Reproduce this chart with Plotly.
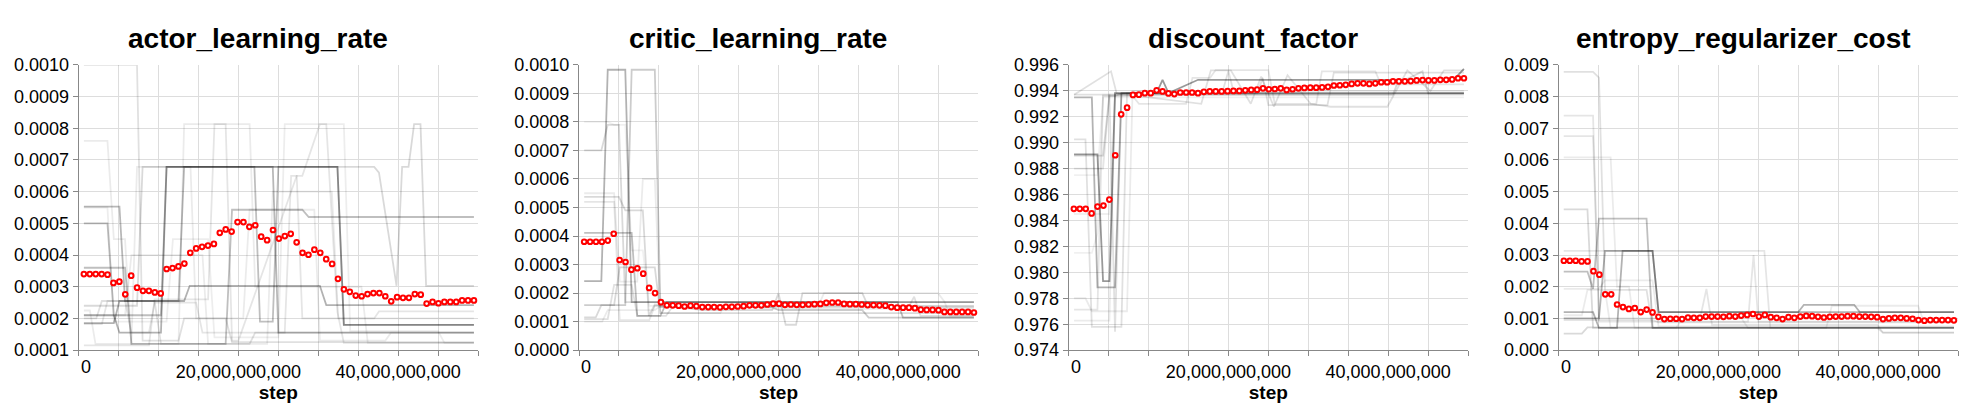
import plotly.graph_objects as go

# evaluation steps (billions of env steps) shared by every panel
steps_b = [0.65, 1.39, 2.13, 2.87, 3.61, 4.35, 5.09, 5.83, 6.57, 7.31,
           8.05, 8.79, 9.53, 10.27, 11.01, 11.75, 12.49, 13.23, 13.97, 14.71,
           15.45, 16.19, 16.93, 17.67, 18.41, 19.15, 19.89, 20.63, 21.37, 22.11,
           22.85, 23.59, 24.33, 25.07, 25.81, 26.55, 27.29, 28.03, 28.77, 29.51,
           30.25, 30.99, 31.73, 32.47, 33.21, 33.95, 34.69, 35.43, 36.17, 36.91,
           37.65, 38.39, 39.13, 39.87, 40.61, 41.35, 42.09, 42.83, 43.57, 44.31,
           45.05, 45.79, 46.53, 47.27, 48.01, 48.75, 49.49]

# population means (red circles)
actor_mean_e4 = [3.40, 3.40, 3.40, 3.40, 3.38, 3.12, 3.16, 2.76, 3.35, 2.97,
                 2.87, 2.87, 2.82, 2.79, 3.56, 3.59, 3.64, 3.73, 4.07, 4.21,
                 4.26, 4.30, 4.35, 4.70, 4.81, 4.74, 5.04, 5.04, 4.89, 4.94,
                 4.58, 4.47, 4.79, 4.52, 4.60, 4.67, 4.40, 4.07, 4.01, 4.17,
                 4.07, 3.87, 3.72, 3.25, 2.92, 2.84, 2.72, 2.70, 2.77, 2.80,
                 2.80, 2.70, 2.54, 2.67, 2.65, 2.65, 2.77, 2.75, 2.47, 2.52,
                 2.48, 2.52, 2.52, 2.52, 2.57, 2.57, 2.57]

critic_mean_e4 = [3.80, 3.80, 3.80, 3.80, 3.84, 4.08, 3.16, 3.09, 2.82, 2.87,
                  2.68, 2.18, 2.00, 1.68, 1.57, 1.57, 1.56, 1.53, 1.56, 1.54,
                  1.51, 1.51, 1.51, 1.50, 1.52, 1.52, 1.53, 1.54, 1.57, 1.57,
                  1.57, 1.60, 1.63, 1.63, 1.59, 1.60, 1.59, 1.59, 1.60, 1.61,
                  1.62, 1.66, 1.67, 1.67, 1.62, 1.61, 1.61, 1.60, 1.58, 1.58,
                  1.57, 1.56, 1.51, 1.49, 1.49, 1.49, 1.47, 1.42, 1.41, 1.41,
                  1.40, 1.34, 1.34, 1.34, 1.34, 1.34, 1.32]

discount_mean = [0.98490, 0.98490, 0.98490, 0.98454, 0.98507, 0.98515, 0.98561, 0.98903, 0.99219, 0.99270,
                 0.99368, 0.99370, 0.99382, 0.99382, 0.99404, 0.99395, 0.99380, 0.99375, 0.99387, 0.99387,
                 0.99387, 0.99382, 0.99392, 0.99395, 0.99395, 0.99395, 0.99397, 0.99399, 0.99399, 0.99404,
                 0.99407, 0.99409, 0.99419, 0.99412, 0.99414, 0.99419, 0.99407, 0.99412, 0.99419, 0.99422,
                 0.99424, 0.99424, 0.99426, 0.99431, 0.99441, 0.99443, 0.99446, 0.99453, 0.99458, 0.99458,
                 0.99453, 0.99458, 0.99466, 0.99466, 0.99473, 0.99473, 0.99473, 0.99475, 0.99480, 0.99483,
                 0.99480, 0.99480, 0.99485, 0.99485, 0.99488, 0.99497, 0.99497]

entropy_mean_e3 = [2.82, 2.82, 2.82, 2.80, 2.80, 2.49, 2.38, 1.76, 1.76, 1.44,
                   1.36, 1.30, 1.33, 1.20, 1.28, 1.19, 1.05, 0.98, 0.99, 0.99,
                   0.98, 1.03, 1.02, 1.02, 1.06, 1.06, 1.06, 1.05, 1.07, 1.06,
                   1.09, 1.11, 1.14, 1.06, 1.11, 1.04, 1.02, 0.98, 1.04, 1.02,
                   1.06, 1.08, 1.07, 1.05, 1.03, 1.05, 1.06, 1.06, 1.07, 1.07,
                   1.06, 1.06, 1.05, 1.04, 0.98, 1.00, 1.02, 1.02, 1.00, 0.99,
                   0.95, 0.93, 0.95, 0.95, 0.95, 0.95, 0.94]

# individual population members (grey lines): (steps_b, value) vertices
actor_runs_e4 = [
    ([0.65, 7.3, 8.0, 12.5, 13.2, 18.4, 19.2, 49.49], [10.0, 10.0, 1.3, 1.3, 2.0, 2.0, 1.25, 1.25]),
    ([0.65, 4.4, 5.1, 10.3, 11.0, 32.4, 33.2, 49.49], [2.1, 2.1, 1.55, 1.55, 6.78, 6.78, 1.8, 1.8]),
    ([0.65, 5.1, 5.8, 12.5, 13.2, 24.3, 25.0, 49.49], [5.53, 5.53, 2.55, 2.55, 6.78, 6.78, 1.55, 1.55]),
    ([0.65, 4.4, 5.1, 13.2, 13.9, 30.2, 31.0, 49.49], [1.85, 1.85, 2.55, 2.55, 3.03, 3.03, 2.42, 2.42]),
    ([0.65, 3.6, 4.4, 10.3, 11.0, 22.0, 22.7, 24.3, 25.0, 32.4, 33.2, 49.49],
     [5.0, 5.0, 2.1, 2.1, 6.78, 6.78, 1.9, 1.9, 6.78, 6.78, 1.8, 1.8]),
    ([0.65, 5.8, 6.6, 18.4, 19.2, 28.0, 28.8, 49.49], [3.6, 3.6, 1.2, 1.2, 5.43, 5.43, 5.2, 5.2]),
    ([0.65, 7.3, 8.0, 37.0, 37.6, 39.8, 40.5, 41.3, 42.0, 42.8, 43.5, 49.49],
     [2.4, 2.4, 6.78, 6.78, 6.6, 3.03, 6.78, 6.78, 8.13, 8.13, 3.03, 3.03]),
    ([0.65, 8.8, 9.5, 16.2, 17.0, 18.4, 19.2, 20.0, 27.3, 28.0, 30.2, 31.0, 32.4, 33.2, 49.49],
     [1.15, 1.15, 2.6, 2.6, 8.13, 8.13, 1.3, 1.3, 6.5, 6.5, 8.13, 8.13, 2.2, 1.23, 1.23]),
    ([0.65, 2.9, 3.6, 5.8, 6.6, 8.8, 9.5, 14.7, 15.5, 25.8, 26.6, 27.3, 28.0, 37.0, 37.6, 49.49],
     [1.82, 1.82, 2.55, 2.55, 1.55, 1.55, 2.5, 2.5, 1.55, 1.55, 6.5, 6.5, 2.0, 2.0, 2.22, 2.22]),
    ([0.65, 3.6, 4.4, 5.8, 6.6, 12.5, 13.2, 21.4, 22.1, 35.4, 36.2, 49.49],
     [7.6, 7.6, 4.5, 4.5, 1.2, 1.2, 8.13, 8.13, 3.0, 3.0, 1.23, 1.23]),
    ([0.65, 2.2, 2.9, 9.5, 10.3, 21.4, 22.1, 49.49], [2.0, 2.0, 2.55, 2.55, 1.2, 1.2, 1.55, 1.55]),
    ([0.65, 1.4, 2.1, 6.6, 7.3, 14.0, 14.7, 20.6, 21.4, 29.5, 30.2, 38.4, 39.1, 49.49],
     [2.25, 2.25, 1.2, 1.2, 6.78, 6.78, 2.0, 2.0, 5.43, 5.43, 1.3, 1.3, 1.55, 1.55]),
    ([0.65, 3.6, 4.4, 11.0, 11.8, 16.2, 17.0, 25.0, 25.8, 33.2, 34.0, 45.0, 45.8, 49.49],
     [5.5, 5.5, 1.9, 1.9, 4.5, 4.5, 1.4, 1.4, 8.13, 8.13, 1.6, 1.6, 1.23, 1.23]),
    ([0.65, 5.8, 6.6, 15.5, 16.2, 23.6, 24.3, 31.7, 32.5, 49.49],
     [2.1, 2.1, 4.0, 4.0, 1.2, 1.2, 6.0, 6.0, 2.0, 2.0]),
]
actor_alpha = [0.12, 0.3, 0.28, 0.3, 0.25, 0.25, 0.15, 0.1, 0.1, 0.08, 0.12, 0.08, 0.07, 0.08]

critic_runs_e4 = [
    ([0.65, 2.8, 3.6, 5.8, 6.6, 49.49], [2.42, 2.42, 9.83, 9.83, 1.68, 1.68]),
    ([0.65, 5.8, 6.6, 9.5, 10.2, 24.2, 25.0, 35.5, 36.3, 49.49],
     [1.58, 1.58, 9.83, 9.83, 1.51, 1.51, 1.4, 1.4, 1.14, 1.14]),
    ([0.65, 2.8, 3.6, 5.0, 5.8, 49.49], [7.0, 7.0, 7.9, 7.9, 1.68, 1.68]),
    ([0.65, 5.0, 5.8, 8.0, 8.75, 9.5, 15.5, 16.2, 24.2, 25.0, 25.9, 27.2, 28.0, 35.5, 36.3, 49.49],
     [5.37, 5.37, 4.9, 4.9, 1.2, 1.6, 1.4, 1.4, 1.4, 2.0, 0.89, 0.89, 2.0, 2.0, 1.51, 1.51]),
    ([0.65, 6.6, 7.3, 10.2, 11.0, 39.9, 40.6, 49.49], [4.11, 4.11, 1.2, 1.2, 1.68, 1.68, 1.14, 1.14]),
    ([0.65, 3.6, 4.4, 6.6, 7.3, 10.9, 11.7, 41.3, 42.0, 42.8, 49.49],
     [1.09, 1.09, 2.29, 2.29, 1.2, 1.2, 1.51, 1.51, 1.87, 1.2, 1.2]),
    ([0.65, 4.4, 5.1, 8.8, 9.5, 49.49], [5.2, 5.2, 1.05, 1.05, 1.55, 1.55]),
    ([0.65, 2.1, 2.8, 4.4, 5.1, 9.5, 10.2, 49.49], [1.15, 1.15, 1.58, 1.58, 2.9, 2.9, 1.3, 1.3]),
    ([0.65, 3.6, 4.4, 5.8, 6.6, 8.0, 8.8, 49.49], [8.0, 8.0, 7.9, 7.9, 3.5, 3.5, 1.55, 1.55]),
    ([0.65, 4.4, 5.1, 7.3, 8.0, 9.5, 10.2, 17.7, 18.4, 22.1, 22.8, 49.49],
     [5.5, 5.5, 2.4, 2.4, 6.0, 6.0, 1.3, 1.3, 1.65, 1.65, 1.45, 1.45]),
    ([0.65, 2.9, 3.6, 9.5, 10.2, 30.0, 30.7, 45.0, 45.8, 46.5, 49.49],
     [1.0, 1.0, 1.4, 1.4, 1.55, 1.55, 2.0, 2.0, 1.7, 1.2, 1.2]),
]
critic_alpha = [0.3, 0.2, 0.15, 0.15, 0.25, 0.12, 0.1, 0.15, 0.06, 0.08, 0.08]

discount_runs = [
    ([0.67, 3.6, 4.3, 5.1, 5.8, 11.0, 11.75, 12.5, 16.2, 48.2, 49.49],
     [0.98910, 0.98910, 0.97933, 0.97933, 0.99382, 0.99382, 0.99485, 0.99382, 0.99485, 0.99485, 0.99570]),
    ([0.67, 2.9, 3.6, 5.8, 6.6, 49.49], [0.99350, 0.99350, 0.97884, 0.97884, 0.99382, 0.99382]),
    ([0.67, 2.1, 2.9, 6.6, 7.3, 49.49], [0.99025, 0.99025, 0.97580, 0.97580, 0.99380, 0.99380]),
    ([0.67, 5.1, 5.8, 6.6, 19.2, 20.0, 20.7, 23.6, 24.3, 25.0, 32.4, 33.2, 49.49],
     [0.9937, 0.9937, 0.97542, 0.9938, 0.9938, 0.99552, 0.9938, 0.9938, 0.9950, 0.9929, 0.9929, 0.9954, 0.9954]),
    ([0.67, 4.3, 5.1, 8.0, 8.8, 14.7, 15.5, 17.7, 18.4, 25.0, 25.8, 31.0, 31.7, 38.4, 39.1, 49.49],
     [0.9880, 0.9880, 0.9936, 0.9936, 0.9930, 0.9930, 0.9950, 0.9950, 0.9956, 0.9956, 0.9930, 0.9930,
      0.9955, 0.9955, 0.9945, 0.9945]),
    ([0.67, 3.6, 4.3, 5.8, 6.6, 49.49], [0.97713, 0.97713, 0.99360, 0.99360, 0.99380, 0.99380]),
    ([0.67, 5.1, 5.8, 49.49], [0.97627, 0.97627, 0.9938, 0.9938]),
    ([0.67, 4.3, 5.1, 40.6, 41.3, 42.0, 44.3, 45.0, 49.49],
     [0.9890, 0.9890, 0.9937, 0.9937, 0.9948, 0.9948, 0.9955, 0.9938, 0.9938]),
    ([0.67, 2.9, 3.6, 4.3, 49.49], [0.9815, 0.9815, 0.9830, 0.9937, 0.9937]),
    ([0.67, 5.1, 5.8, 49.49], [0.9845, 0.9845, 0.9937, 0.9937]),
    ([0.67, 3.6, 4.3, 49.49], [0.9875, 0.9875, 0.9935, 0.9935]),
    ([0.67, 2.1, 2.9, 7.3, 8.0, 49.49], [0.9780, 0.9780, 0.9770, 0.9770, 0.9940, 0.9940]),
    ([0.67, 5.3, 6.0, 16.6, 17.8, 20.3, 22.8, 24.1, 25.7, 27.4, 30.3, 32.8, 39.9, 42.4, 45.3, 47.0, 49.49],
     [0.9937, 0.9955, 0.9938, 0.9930, 0.99558, 0.99558, 0.9930, 0.9951, 0.99277, 0.9952, 0.9930, 0.99277,
      0.99277, 0.99558, 0.9940, 0.99558, 0.99558]),
]
discount_alpha = [0.4, 0.3, 0.12, 0.12, 0.1, 0.1, 0.08, 0.15, 0.06, 0.06, 0.06, 0.08, 0.12]

entropy_runs_e3 = [
    ([0.63, 4.3, 5.04, 5.8, 11.0, 11.75, 49.5], [8.78, 8.78, 8.6, 1.9, 1.9, 0.7, 0.7]),
    ([0.63, 3.6, 4.3, 5.04, 5.8, 11.0, 11.75, 49.5], [2.48, 2.48, 1.93, 4.15, 4.15, 4.15, 0.7, 0.7]),
    ([0.63, 5.04, 5.8, 7.3, 8.0, 11.75, 12.5, 49.5], [1.0, 1.0, 3.13, 3.13, 3.13, 3.13, 1.2, 1.2]),
    ([0.63, 4.3, 5.04, 7.3, 8.0, 11.75, 12.5, 30.0, 30.7, 37.0, 37.7, 49.5],
     [1.2, 1.2, 0.7, 0.7, 3.13, 3.13, 1.2, 1.2, 1.43, 1.43, 1.2, 1.2]),
    ([0.63, 25.75, 26.5, 39.9, 40.6, 49.5], [3.13, 3.13, 0.7, 0.7, 0.55, 0.55]),
    ([0.63, 4.3, 5.04, 23.7, 24.4, 25.0, 49.5], [7.4, 7.4, 0.9, 0.9, 3.0, 0.9, 0.9]),
    ([0.63, 4.3, 5.04, 17.7, 18.5, 19.2, 39.9, 40.6, 49.5], [6.75, 6.75, 1.0, 1.0, 1.93, 0.8, 0.8, 0.55, 0.55]),
    ([0.63, 6.5, 7.3, 8.8, 9.5, 49.5], [6.08, 6.08, 2.0, 2.0, 0.7, 0.7]),
    ([0.63, 3.6, 4.3, 49.5], [4.44, 4.44, 0.7, 0.7]),
    ([0.63, 2.9, 3.6, 49.5], [0.52, 0.52, 0.72, 0.72]),
    ([0.63, 11.75, 12.5, 49.5], [0.95, 0.95, 0.88, 0.88]),
    ([0.63, 5.04, 5.8, 11.75, 12.5, 49.5], [1.93, 1.93, 2.2, 2.2, 0.75, 0.75]),
    ([0.63, 2.9, 3.6, 5.8, 6.5, 14.7, 15.5, 22.9, 23.7, 33.5, 34.2, 45.0, 45.7, 49.5],
     [1.1, 1.1, 1.9, 1.9, 0.7, 0.7, 1.0, 1.0, 0.7, 0.7, 1.4, 1.4, 0.9, 0.9]),
]
entropy_alpha = [0.12, 0.25, 0.3, 0.3, 0.1, 0.1, 0.1, 0.08, 0.15, 0.15, 0.1, 0.08, 0.08]

titles = ['actor_learning_rate', 'critic_learning_rate', 'discount_factor', 'entropy_regularizer_cost']
x_tick_vals = [0, 5, 10, 15, 20, 25, 30, 35, 40, 45, 50]
x_tick_text = ['', '', '', '', '20,000,000,000', '', '', '', '40,000,000,000', '', '']

FONT = 'Liberation Sans, Arial, sans-serif'
W, H = 1980, 407

# pixel layout of each plot area (left, right), shared top/bottom
panel_px = [(70.7, 470.0), (571.0, 970.0), (1060.7, 1460.0), (1550.7, 1950.0)]
title_cx = [250, 750, 1245, 1735]
plot_top, plot_bottom = 49.3, 349.3

panels = [
    dict(mean=[v * 1e-4 for v in actor_mean_e4],
         runs=[(x, [v * 1e-4 for v in y]) for x, y in actor_runs_e4], alpha=actor_alpha,
         yrange=[0.0001, 0.0010], dtick=0.0001, fmt='.4f'),
    dict(mean=[v * 1e-4 for v in critic_mean_e4],
         runs=[(x, [v * 1e-4 for v in y]) for x, y in critic_runs_e4], alpha=critic_alpha,
         yrange=[0.0, 0.0010], dtick=0.0001, fmt='.4f'),
    dict(mean=discount_mean, runs=discount_runs, alpha=discount_alpha,
         yrange=[0.974, 0.996], dtick=0.002, fmt='.3f'),
    dict(mean=[v * 1e-3 for v in entropy_mean_e3],
         runs=[(x, [v * 1e-3 for v in y]) for x, y in entropy_runs_e3], alpha=entropy_alpha,
         yrange=[0.0, 0.009], dtick=0.001, fmt='.3f'),
]

fig = go.Figure()
annotations = []

for i, p in enumerate(panels):
    n = '' if i == 0 else str(i + 1)
    xa, ya = 'x' + n, 'y' + n

    for (rx, ry), a in zip(p['runs'], p['alpha']):
        fig.add_trace(go.Scatter(
            x=rx, y=ry, xaxis=xa, yaxis=ya, mode='lines',
            line=dict(color=f'rgba(0,0,0,{a})', width=1.8),
            hoverinfo='skip', showlegend=False
        ))

    fig.add_trace(go.Scatter(
        x=steps_b, y=p['mean'], xaxis=xa, yaxis=ya, mode='markers',
        marker=dict(symbol='circle', size=4.7, color='white',
                    line=dict(color='red', width=2)),
        showlegend=False
    ))

    left, right = panel_px[i]
    axis_common = dict(
        showline=True, linecolor='#888', linewidth=1,
        ticks='outside', ticklen=5, tickcolor='#888',
        showgrid=True, gridcolor='#ddd', gridwidth=1,
        zeroline=False, mirror=False,
        tickfont=dict(family=FONT, size=18, color='black'),
    )
    fig.layout['xaxis' + n] = dict(
        axis_common,
        domain=[left / W, right / W], anchor=ya, range=[0, 50],
        tickvals=x_tick_vals, ticktext=x_tick_text,
        title=dict(text='<b>step</b>', font=dict(family=FONT, size=19, color='black'), standoff=4),
    )
    fig.layout['yaxis' + n] = dict(
        axis_common,
        domain=[1 - plot_bottom / H, 1 - plot_top / H], anchor=xa,
        range=p['yrange'], dtick=p['dtick'], tick0=p['yrange'][0], tickformat=p['fmt'],
    )

    # first x label sits flush with the axis origin
    annotations.append(dict(
        text='0', xref=xa, yref='paper', x=0, y=1 - plot_bottom / H,
        xanchor='left', yanchor='top', yshift=-5, showarrow=False,
        font=dict(family=FONT, size=18, color='black'),
    ))

    annotations.append(dict(
        text='<b>' + titles[i] + '</b>', xref='paper', yref='paper',
        x=title_cx[i] / W, y=1 - 22 / H, xanchor='center', yanchor='middle',
        showarrow=False, font=dict(family=FONT, size=28, color='black'),
    ))

fig.update_layout(
    width=W, height=H,
    margin=dict(l=0, r=0, t=0, b=0),
    paper_bgcolor='white', plot_bgcolor='white',
    annotations=annotations,
)

fig.write_html("out.html")
